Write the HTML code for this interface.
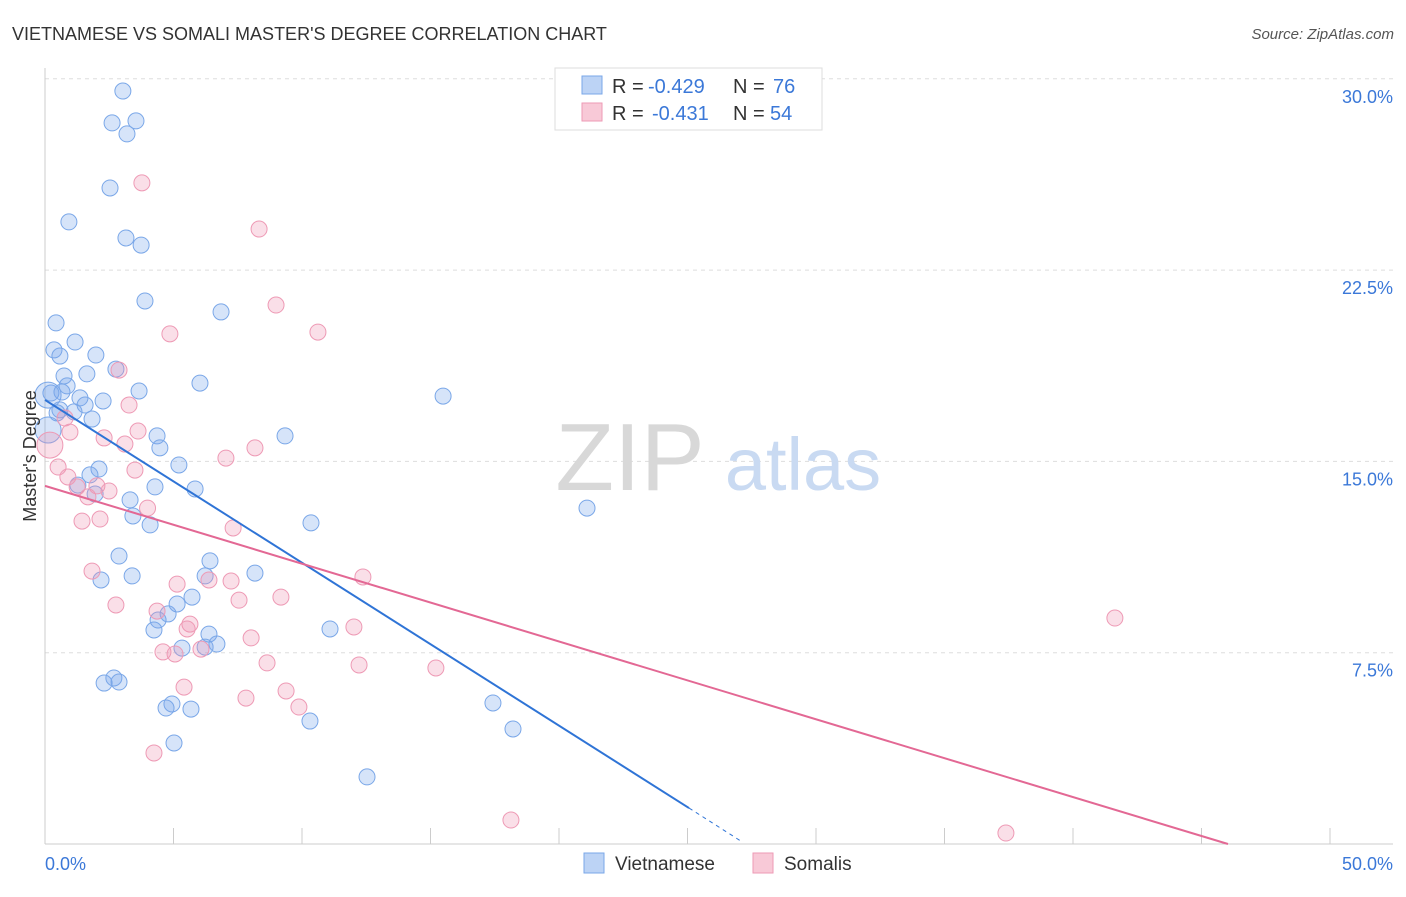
<!DOCTYPE html>
<html><head><meta charset="utf-8"><style>
body{margin:0;background:#fff;font-family:"Liberation Sans",sans-serif;}
svg text{font-family:"Liberation Sans",sans-serif;}
</style></head><body>
<svg id="chart" width="1406" height="892">
<text x="12" y="40" font-size="18" fill="#333">VIETNAMESE VS SOMALI MASTER'S DEGREE CORRELATION CHART</text>
<text x="1394" y="39" font-size="15" fill="#555" font-style="italic" text-anchor="end">Source: ZipAtlas.com</text>
<g id="grid"></g>
<text x="630" y="490" font-size="96" fill="#d8d8d8" font-family="Liberation Serif" text-anchor="middle">ZIP</text>
<text x="803" y="490" font-size="74" fill="#c9daf2" text-anchor="middle">atlas</text>
<g id="axes"></g>
<g id="pts"></g>
<g id="lines"></g>
<text x="36" y="456" font-size="18" fill="#333" text-anchor="middle" transform="rotate(-90 36 456)">Master's Degree</text>
<g>
<rect x="555" y="68" width="267" height="62" fill="#fff" stroke="#ddd"/>
<rect x="582" y="76" width="20" height="18" fill="#bcd3f5" stroke="#7aa7e8"/>
<rect x="582" y="103" width="20" height="18" fill="#f8c9d7" stroke="#ee9ab5"/>
<text x="612" y="93" font-size="20" fill="#333">R =</text>
<text x="648" y="93" font-size="20" fill="#3b78d8">-0.429</text>
<text x="733" y="93" font-size="20" fill="#333">N =</text>
<text x="773" y="93" font-size="20" fill="#3b78d8">76</text>
<text x="612" y="120" font-size="20" fill="#333">R =</text>
<text x="652" y="120" font-size="20" fill="#3b78d8">-0.431</text>
<text x="733" y="120" font-size="20" fill="#333">N =</text>
<text x="770" y="120" font-size="20" fill="#3b78d8">54</text>
</g>
<g>
<rect x="584" y="853" width="20" height="20" fill="#bcd3f5" stroke="#7aa7e8"/>
<text x="615" y="870" font-size="19" fill="#333">Vietnamese</text>
<rect x="753" y="853" width="20" height="20" fill="#f8c9d7" stroke="#ee9ab5"/>
<text x="784" y="870" font-size="19" fill="#333">Somalis</text>
</g>
</svg>
<script>
const yTicks=[7.5,15,22.5,30];
const yTickLabels=["7.5%","15.0%","22.5%","30.0%"];
const xTickVals=[0,5,10,15,20,25,30,35,40,45,50];
const vietX=[3.03,2.61,3.54,3.19,2.53,0.93,3.15,3.74,3.89,6.85,0.43,0.35,1.17,0.58,1.98,2.76,1.63,0.74,6.03,0.86,0.23,3.66,0.66,15.49,1.36,2.26,1.56,0.58,1.13,1.83,0.47,4.36,9.34,4.47,5.21,2.10,1.75,4.28,1.28,5.84,1.95,3.31,3.42,10.35,4.09,21.09,2.88,6.42,8.17,3.39,2.18,6.23,5.72,5.14,4.40,4.24,4.79,11.09,6.38,6.69,5.33,6.23,2.30,2.68,2.88,4.94,4.71,5.68,17.43,10.31,18.21,5.02,12.53,0.12,0.12];
const vietY=[29.52,28.27,28.35,27.84,25.72,24.39,23.76,23.48,21.29,20.86,20.43,19.37,19.68,19.13,19.17,18.62,18.43,18.35,18.07,17.96,17.68,17.76,17.72,17.56,17.49,17.37,17.21,17.02,16.94,16.66,16.9,16.0,16.0,15.53,14.86,14.70,14.47,14.0,14.07,13.92,13.72,13.49,12.86,12.59,12.51,13.17,11.29,11.10,10.62,10.51,10.35,10.51,9.68,9.41,8.78,8.39,9.02,8.43,8.23,7.84,7.68,7.72,6.31,6.51,6.35,5.49,5.33,5.29,5.53,4.82,4.51,3.96,2.63,16.23,17.6];
const somX=[3.77,8.33,8.99,10.62,4.86,2.88,3.27,0.78,0.97,3.62,2.30,3.11,8.17,7.04,0.19,0.51,3.50,0.89,1.25,2.02,2.49,1.67,3.99,1.44,2.14,7.32,1.83,5.14,12.37,6.38,7.24,9.18,7.55,2.76,4.36,5.64,5.53,12.02,41.63,8.02,4.59,5.06,6.07,8.64,12.22,15.21,5.41,9.38,7.82,9.88,4.24,18.13,37.39];
const somY=[25.92,24.11,21.13,20.07,20.0,18.58,17.21,16.7,16.15,16.19,15.92,15.68,15.53,15.13,15.64,14.78,14.66,14.39,14.0,14.04,13.84,13.61,13.17,12.66,12.74,12.39,10.7,10.19,10.47,10.35,10.31,9.68,9.56,9.37,9.13,8.62,8.43,8.51,8.86,8.08,7.53,7.45,7.64,7.10,7.02,6.90,6.15,6.0,5.72,5.37,3.57,0.94,0.43];
const vietLine=[0,17.41,25.06,1.41,27.1,0.1];
const somLine=[0,14.04,46.03,0];
const NS="http://www.w3.org/2000/svg";
const sx=v=>45+v/50*1285, sy=v=>844-v/7.5*191.3;
function mk(t,a,p){const e=document.createElementNS(NS,t);for(const k in a)e.setAttribute(k,a[k]);p.appendChild(e);return e;}
const grid=document.getElementById('grid'),axes=document.getElementById('axes'),pts=document.getElementById('pts'),lines=document.getElementById('lines');
yTicks.forEach((v,i)=>{
 const l=mk('line',{x1:45,x2:1393,y1:sy(v),y2:sy(v),stroke:'#ddd','stroke-dasharray':'4,4'},grid);
 
 
 const t=mk('text',{x:1393,y:sy(v)+24,'font-size':18,fill:'#3b78d8','text-anchor':'end'},axes);
 t.textContent=yTickLabels[i];
 
 
});
mk('line',{x1:45,x2:45,y1:68,y2:844,stroke:'#ccc'},axes);
mk('line',{x1:45,x2:1393,y1:844,y2:844,stroke:'#ccc'},axes);
xTickVals.forEach(v=>{const t=mk('line',{x1:sx(v),x2:sx(v),y1:828,y2:844,stroke:'#ccc'},axes);
 
 });
let a=mk('text',{x:45,y:870,'font-size':18,fill:'#3b78d8'},axes);a.textContent='0.0%';


a=mk('text',{x:1393,y:870,'font-size':18,fill:'#3b78d8','text-anchor':'end'},axes);a.textContent='50.0%';


vietX.forEach((x,i)=>{const big=i>=vietX.length-2;const c=mk('circle',{cx:sx(x),cy:sy(vietY[i]),r:big?13:8,fill:'rgba(120,165,235,0.3)',stroke:'#7aa7e8','stroke-width':1},pts);
 
 });
somX.forEach((x,i)=>{const big=i===14;const c=mk('circle',{cx:sx(x),cy:sy(somY[i]),r:big?13:8,fill:'rgba(240,150,180,0.3)',stroke:'#ee9ab5','stroke-width':1},pts);
 
 });
let L=mk('line',{x1:sx(vietLine[0]),y1:sy(vietLine[1]),x2:sx(vietLine[2]),y2:sy(vietLine[3]),stroke:'#2f74d6','stroke-width':2},lines);


L=mk('line',{x1:sx(vietLine[2]),y1:sy(vietLine[3]),x2:sx(vietLine[4]),y2:sy(vietLine[5]),stroke:'#2f74d6','stroke-width':1,'stroke-dasharray':'4,4'},lines);


L=mk('line',{x1:sx(somLine[0]),y1:sy(somLine[1]),x2:sx(somLine[2]),y2:sy(somLine[3]),stroke:'#e36894','stroke-width':2},lines);


</script>
</body></html>
